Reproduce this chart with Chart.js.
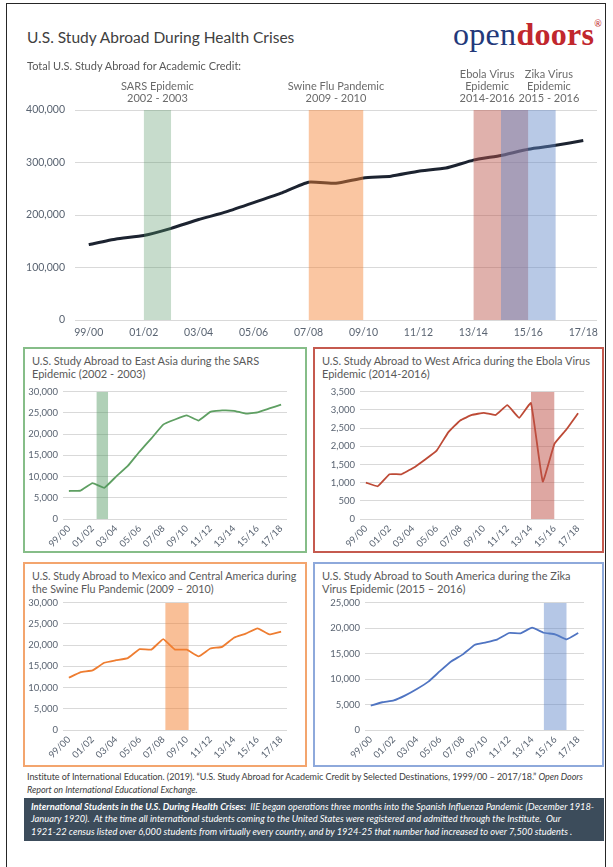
<!DOCTYPE html>
<html>
<head>
<meta charset="utf-8">
<script src="https://cdn.jsdelivr.net/npm/chart.js@4.4.1/dist/chart.umd.min.js"></script>
<style>
  html, body { margin: 0; padding: 0; }
  body { width: 613px; height: 867px; position: relative; overflow: hidden; background: #fff; font-family: Lato, "Open Sans", sans-serif; color: #595959; }
  #frame { position: absolute; left: 6px; top: 3px; width: 600px; height: 900px; border: 1.5px solid #262626; box-sizing: border-box; }
  #title { position: absolute; left: 27px; top: 28px; font-size: 15.5px; color: #404040; white-space: nowrap; }
  #logo { position: absolute; left: 453px; top: 16px; font-family: "Liberation Serif", serif; font-size: 32px; white-space: nowrap; letter-spacing: 0.3px; }
  #logo .open { color: #23397a; }
  #logo .doors { color: #c1272d; font-weight: bold; }
  #logo sup { font-family: Lato, sans-serif; font-size: 9px; color: #c1272d; position: relative; top: -6px; }
  #subtitle { position: absolute; left: 27px; top: 59px; font-size: 11px; white-space: nowrap; color: #595959; z-index: 2; }
  canvas { position: absolute; }
  .box { position: absolute; box-sizing: border-box; border: 2px solid; }
  .box .t { position: absolute; left: 7px; top: 6px; font-size: 11px; line-height: 12.6px; color: #595959; white-space: nowrap; }
  #b3 .t { font-size: 10.7px; }
  #b1 { left: 23px; top: 347px; width: 284px; height: 206px; border-color: #86bd88; }
  #b2 { left: 313px; top: 347px; width: 291px; height: 206px; border-color: #c55a4f; }
  #b3 { left: 23px; top: 562px; width: 284px; height: 205px; border-color: #f3a56e; }
  #b4 { left: 313px; top: 562px; width: 291px; height: 205px; border-color: #8ea9db; }
  #cite { position: absolute; left: 27px; top: 770px; width: 585px; font-size: 9px; line-height: 13px; color: #404040; white-space: nowrap; letter-spacing: -0.05px; }
  #note { position: absolute; left: 24px; top: 798px; width: 580px; height: 43px; box-sizing: border-box; background: #3c4c5b; color: #fff; font-style: italic; font-size: 9.3px; line-height: 12.4px; padding: 3px 7px; white-space: nowrap; }
  #note b { font-weight: bold; }
</style>
</head>
<body>
<div id="frame"></div>
<div id="title">U.S. Study Abroad During Health Crises</div>
<div id="logo"><span class="open">open</span><span class="doors">doors</span><sup>®</sup></div>
<div id="subtitle">Total U.S. Study Abroad for Academic Credit:</div>
<canvas id="cTop" width="585" height="285" style="left:20px;top:60px;width:585px;height:285px;"></canvas>

<div class="box" id="b1"><div class="t">U.S. Study Abroad to East Asia during the SARS<br>Epidemic (2002 - 2003)</div></div>
<div class="box" id="b2"><div class="t">U.S. Study Abroad to West Africa during the Ebola Virus<br>Epidemic (2014-2016)</div></div>
<div class="box" id="b3"><div class="t">U.S. Study Abroad to Mexico and Central America during<br>the Swine Flu Pandemic (2009 – 2010)</div></div>
<div class="box" id="b4"><div class="t">U.S. Study Abroad to South America during the Zika<br>Virus Epidemic (2015 – 2016)</div></div>

<canvas id="cAsia" width="280" height="168" style="left:25px;top:381px;width:280px;height:168px;"></canvas>
<canvas id="cAfrica" width="287" height="168" style="left:315px;top:381px;width:287px;height:168px;"></canvas>
<canvas id="cMexico" width="280" height="168" style="left:25px;top:592px;width:280px;height:168px;"></canvas>
<canvas id="cSouth" width="287" height="168" style="left:315px;top:592px;width:287px;height:168px;"></canvas>

<div id="cite">Institute of International Education. (2019). “U.S. Study Abroad for Academic Credit by Selected Destinations, 1999/00 – 2017/18.” <i>Open Doors<br>Report on International Educational Exchange.</i></div>
<div id="note"><b>International Students in the U.S. During Health Crises:</b>&nbsp; IIE began operations three months into the Spanish Influenza Pandemic (December 1918-<br>January 1920).&nbsp; At the time all international students coming to the United States were registered and admitted through the Institute.&nbsp; Our<br>1921-22 census listed over 6,000 students from virtually every country, and by 1924-25 that number had increased to over 7,500 students .</div>

<script>
// ---------------- DATA ----------------
const years = ['99/00','00/01','01/02','02/03','03/04','04/05','05/06','06/07','07/08','08/09','09/10','10/11','11/12','12/13','13/14','14/15','15/16','16/17','17/18'];
const shownYearIdx = [0, 2, 4, 6, 8, 10, 12, 14, 16, 18];

const totalStudyAbroad = [143590, 154168, 160920, 174629, 191321, 205983, 223534, 241791, 262416, 260327, 270604, 273996, 283332, 289408, 304467, 313415, 325339, 332727, 341751];
const eastAsia = [6600, 6700, 8450, 7350, 10000, 12500, 15900, 19000, 22250, 23450, 24400, 23200, 25250, 25600, 25500, 24850, 25150, 26050, 26950];
const westAfrica = [1000, 900, 1230, 1230, 1400, 1630, 1880, 2390, 2710, 2860, 2920, 2860, 3130, 2780, 3190, 1030, 2070, 2460, 2910];
const mexicoCentralAmerica = [12300, 13650, 14050, 15850, 16450, 16950, 19050, 18950, 21400, 18950, 18950, 17350, 19200, 19600, 21750, 22700, 23950, 22550, 23200];
const southAmerica = [4800, 5450, 5800, 6800, 8050, 9500, 11550, 13500, 14850, 16700, 17200, 17800, 19050, 19000, 20100, 19100, 18800, 17800, 19050];

// crisis periods, in category positions on the year axis
const sarsLabel = ['SARS Epidemic', '2002 - 2003'];
const swineLabel = ['Swine Flu Pandemic', '2009 - 2010'];
const ebolaLabel = ['Ebola Virus', 'Epidemic', '2014-2016'];
const zikaLabel = ['Zika Virus', 'Epidemic', '2015 - 2016'];
const sarsSpan = [2, 3];
const swineSpan = [8, 10];
const ebolaSpan = [14, 16];
const zikaSpan = [15, 17];
const labelCenters = [2.5, 9, 14.5, 16.75];
// spans as drawn in the regional panels
const sarsSpanRegional = [2.33, 3.33];
const swineSpanRegional = [8.17, 10.17];
const ebolaSpanRegional = [14, 16];
const zikaSpanRegional = [15, 17];

// ---------------- HELPERS ----------------
const TICK = '#5a6472';
const GRID = '#d9d9d9';
const FONT = 'Lato';
const toPoints = arr => arr.map((v, i) => ({ x: i, y: v }));
const band = (span, top, color) => ({
  type: 'line',
  data: [{ x: span[0], y: top }, { x: span[1], y: top }],
  fill: 'origin',
  backgroundColor: color,
  borderWidth: 0,
  pointRadius: 0,
  tension: 0
});
const fmt = v => Number(v).toLocaleString('en-US');

function makeOptions(cfg) {
  return {
    animation: false,
    responsive: false,
    events: [],
    layout: { padding: cfg.padding },
    plugins: { legend: { display: false }, tooltip: { enabled: false }, title: { display: false } },
    scales: {
      x: {
        type: 'linear',
        min: -0.5,
        max: 18.5,
        afterBuildTicks: s => { s.ticks = shownYearIdx.map(v => ({ value: v })); },
        afterFit: s => { s.height = cfg.xHeight; },
        grid: { display: false, drawTicks: false },
        border: { display: false },
        ticks: {
          autoSkip: false,
          minRotation: cfg.rot,
          maxRotation: cfg.rot,
          padding: cfg.xPad,
          color: TICK,
          font: { family: FONT, size: cfg.tickSize },
          callback: v => years[v]
        }
      },
      y: {
        min: 0,
        max: cfg.yMax,
        afterFit: s => { s.width = cfg.yWidth; },
        grid: { color: GRID, lineWidth: 1, drawTicks: false },
        border: { display: false },
        ticks: {
          stepSize: cfg.yStep,
          padding: cfg.yPad,
          color: TICK,
          font: { family: FONT, size: cfg.tickSize },
          callback: v => fmt(v)
        }
      }
    }
  };
}

// plugin that writes the crisis names above the main chart
const crisisLabels = {
  id: 'crisisLabels',
  afterDraw(chart) {
    const ctx = chart.ctx;
    const xs = chart.scales.x;
    const labels = [sarsLabel, swineLabel, ebolaLabel, zikaLabel];
    ctx.save();
    ctx.fillStyle = '#6b6b6b';
    ctx.font = '11px ' + FONT;
    ctx.textAlign = 'center';
    ctx.textBaseline = 'middle';
    labels.forEach((lines, k) => {
      const cx = xs.getPixelForValue(labelCenters[k]);
      const n = lines.length;
      lines.forEach((line, i) => {
        const y = chart.chartArea.top - 11.5 - (n - 1 - i) * 12.2;
        ctx.fillText(line, cx, y);
      });
    });
    ctx.restore();
  }
};

// ---------------- MAIN CHART ----------------
new Chart(document.getElementById('cTop'), {
  type: 'line',
  data: {
    datasets: [
      band(sarsSpan, 400000, 'rgba(84,150,100,0.33)'),
      band(swineSpan, 400000, 'rgba(244,128,48,0.45)'),
      band(zikaSpan, 400000, 'rgba(97,135,199,0.45)'),
      band(ebolaSpan, 400000, 'rgba(186,82,72,0.45)'),
      { type: 'line', data: toPoints(totalStudyAbroad), borderColor: '#1c2330', borderWidth: 3, pointRadius: 0, tension: 0.15, fill: false }
    ]
  },
  options: makeOptions({ padding: { top: 50, right: 8, left: 0, bottom: 0 }, xHeight: 25, yWidth: 55, yMax: 400000, yStep: 100000, rot: 0, xPad: 6, yPad: 10, tickSize: 10.5 }),
  plugins: [crisisLabels]
});

// ---------------- REGIONAL CHARTS ----------------
function regional(id, values, color, span, bandColor, yMax, yStep, yWidth) {
  new Chart(document.getElementById(id), {
    type: 'line',
    data: {
      datasets: [
        band(span, yMax, bandColor),
        { type: 'line', data: toPoints(values), borderColor: color, borderWidth: 1.8, pointRadius: 0, tension: 0.1, fill: false }
      ]
    },
    options: makeOptions({ padding: { top: 8, right: 18, left: 0, bottom: 0 }, xHeight: 30, yWidth: yWidth, yMax: yMax, yStep: yStep, rot: 45, xPad: 4, yPad: 5, tickSize: 9.5 })
  });
}
regional('cAsia', eastAsia, '#5e9f62', sarsSpanRegional, 'rgba(80,150,95,0.45)', 30000, 5000, 38);
regional('cAfrica', westAfrica, '#bd4a36', ebolaSpanRegional, 'rgba(190,80,70,0.5)', 3500, 500, 45);
regional('cMexico', mexicoCentralAmerica, '#ee7d31', swineSpanRegional, 'rgba(244,128,48,0.5)', 30000, 5000, 38);
regional('cSouth', southAmerica, '#4f74c2', zikaSpanRegional, 'rgba(90,130,200,0.45)', 25000, 5000, 50);
</script>
</body>
</html>
